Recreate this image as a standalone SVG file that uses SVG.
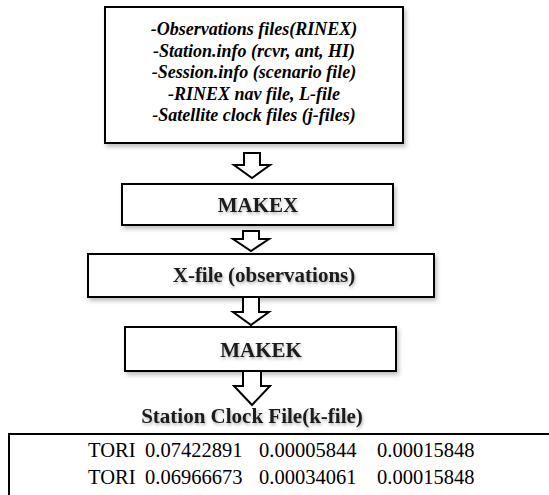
<svg xmlns="http://www.w3.org/2000/svg" width="549" height="495" viewBox="0 0 549 495">
<defs>
<filter id="sh" x="-10%" y="-30%" width="125%" height="170%">
<feDropShadow dx="2" dy="3" stdDeviation="2" flood-color="#000" flood-opacity="0.25"/>
</filter>
<filter id="tsh" x="-10%" y="-40%" width="125%" height="190%">
<feDropShadow dx="1" dy="2" stdDeviation="1.5" flood-color="#000" flood-opacity="0.3"/>
</filter>
</defs>
<style>
.box{fill:#fff;stroke:#000;stroke-width:2}
.arr{fill:#fff;stroke:#000;stroke-width:2;stroke-linejoin:miter}
.it{font-family:"Liberation Serif","Times New Roman",serif;font-style:italic;font-weight:bold;font-size:18px;text-anchor:middle;fill:#000}
.bd{font-family:"Liberation Serif","Times New Roman",serif;font-weight:bold;font-size:21px;text-anchor:middle;fill:#1a1a1a}
.rg{font-family:"Liberation Serif","Times New Roman",serif;font-size:20.5px;fill:#000}
</style>
<rect width="549" height="495" fill="#fff"/>
<g id="inputs">
<rect class="box" x="105" y="7" width="298" height="136" filter="url(#sh)"/>
<text class="it" x="254" y="35">-Observations files(RINEX)</text>
<text class="it" x="254" y="56.5">-Station.info (rcvr, ant, HI)</text>
<text class="it" x="254" y="78">-Session.info (scenario file)</text>
<text class="it" x="254" y="99.5">-RINEX nav file, L-file</text>
<text class="it" x="254" y="121">-Satellite clock files (j-files)</text>
</g>
<g id="makex">
<rect class="box" x="122" y="184" width="271" height="41" filter="url(#sh)"/>
<text class="bd" x="258" y="212" filter="url(#tsh)">MAKEX</text>
</g>
<g id="xfile">
<rect class="box" x="88" y="254" width="346" height="43" filter="url(#sh)"/>
<text class="bd" x="264" y="282" filter="url(#tsh)">X-file (observations)</text>
</g>
<g id="makek">
<rect class="box" x="125" y="327" width="271" height="44" filter="url(#sh)"/>
<text class="bd" x="261" y="357" filter="url(#tsh)">MAKEK</text>
</g>
<g id="kfile">
<text class="bd" x="252" y="423" filter="url(#tsh)">Station Clock File(k-file)</text>
<rect class="box" x="9" y="434" width="560" height="80"/>
<text class="rg" y="457"><tspan x="88">TORI</tspan><tspan x="145">0.07422891</tspan><tspan x="259">0.00005844</tspan><tspan x="377">0.00015848</tspan></text>
<text class="rg" y="484"><tspan x="88">TORI</tspan><tspan x="145">0.06966673</tspan><tspan x="259">0.00034061</tspan><tspan x="377">0.00015848</tspan></text>
</g>
<g id="connectors">
<path class="arr" d="M244,153 H260 V165 H270 L252,178 L234,165 H244 Z"/>
<path class="arr" d="M243,231 H259 V239 H269 L251,251 L233,239 H243 Z"/>
<path class="arr" d="M243,297 H259 V312 H269 L251,325 L233,312 H243 Z"/>
<path class="arr" d="M243,371 H261 V386 H270 L252,405 L234,386 H243 Z"/>
</g>
</svg>
